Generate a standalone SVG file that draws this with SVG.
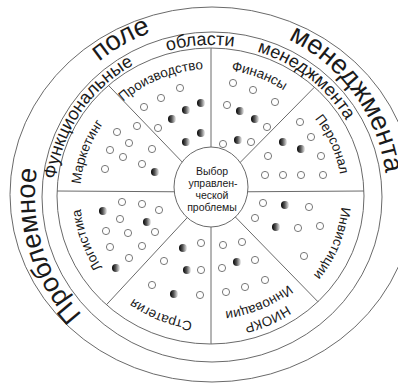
<svg xmlns="http://www.w3.org/2000/svg" xmlns:xlink="http://www.w3.org/1999/xlink" width="398" height="383" viewBox="0 0 398 383">
<style>
.ring{fill:none;stroke:#6a6a6a;stroke-width:1}
.div{stroke:#6a6a6a;stroke-width:1}
.o{fill:#fff;stroke:#6a6a6a;stroke-width:0.9}
.f{fill:url(#g);stroke:none}
.t{font-family:"Liberation Sans",Arial,sans-serif;fill:#1a1a1a}
.lab{font-size:13.5px}
.mid{font-size:18px}
.big{font-size:27px}
.ctr{font-size:10.5px;text-anchor:middle}
</style>
<defs>
<linearGradient id="g" x1="0" y1="0" x2="1" y2="0">
<stop offset="0" stop-color="#000"/>
<stop offset="0.45" stop-color="#555"/>
<stop offset="1" stop-color="#eee"/>
</linearGradient>
<path id="pLab" d="M 211 323 A 131 127 0 1 1 211 69 A 131 127 0 1 1 211 323"/>
<path id="pNiokr" d="M 211 328 A 136 132 0 1 1 211 64 A 136 132 0 1 1 211 328"/>
<path id="pInnov" d="M 211 312 A 120 116 0 1 1 211 80 A 120 116 0 1 1 211 312"/>
<path id="pMid" d="M 211 347 A 156 151 0 1 1 211 45 A 156 151 0 1 1 211 347"/>
<path id="pBig" d="M 211 370 A 176 174 0 1 1 211 22 A 176 174 0 1 1 211 370"/>
</defs>
<rect width="398" height="383" fill="#fff"/>
<g id="rings">
<ellipse class="ring" cx="212" cy="194.5" rx="202" ry="187.5"/>
<ellipse class="ring" cx="212" cy="197" rx="170" ry="165"/>
<ellipse class="ring" cx="210.5" cy="196" rx="153.5" ry="148"/>
</g>
<g id="ring-labels" class="t">
<text class="big"><textPath xlink:href="#pBig" startOffset="20.3%" text-anchor="middle">Проблемное</textPath></text>
<text class="big"><textPath xlink:href="#pBig" startOffset="41.7%" text-anchor="middle">поле</textPath></text>
<text class="big"><textPath xlink:href="#pBig" startOffset="65.1%" text-anchor="middle">менеджмента</textPath></text>
<text class="mid"><textPath xlink:href="#pMid" startOffset="34.2%" text-anchor="middle">Функциональные</textPath></text>
<text class="mid"><textPath xlink:href="#pMid" startOffset="48.9%" text-anchor="middle">области</textPath></text>
<text class="mid"><textPath xlink:href="#pMid" startOffset="60.8%" text-anchor="middle">менеджмента</textPath></text>
</g>
<g id="connectors">
<line class="div" x1="211" y1="192" x2="211" y2="48"/>
<line class="div" x1="211" y1="192" x2="314.4" y2="87.2"/>
<line class="div" x1="211" y1="192" x2="364" y2="191"/>
<line class="div" x1="211" y1="192" x2="318" y2="301.8"/>
<line class="div" x1="211" y1="192" x2="211" y2="344"/>
<line class="div" x1="211" y1="192" x2="106.4" y2="304.8"/>
<line class="div" x1="211" y1="192" x2="57" y2="191"/>
<line class="div" x1="211" y1="192" x2="108.5" y2="85.4"/>
</g>
<g id="center">
<ellipse cx="211" cy="187" rx="37" ry="40" fill="#fff" stroke="#6a6a6a" stroke-width="1"/>
<text class="t ctr" x="212" y="175">Выбор</text>
<text class="t ctr" x="213" y="187">управлен-</text>
<text class="t ctr" x="212" y="199">ческой</text>
<text class="t ctr" x="212" y="211">проблемы</text>
</g>
<g id="sector-proizvodstvo">
<text class="t lab"><textPath xlink:href="#pLab" startOffset="43.6%" text-anchor="middle">Производство</textPath></text>
<circle class="o" cx="180" cy="88" r="3.6"/><circle class="o" cx="161" cy="98" r="3.6"/><circle class="o" cx="144" cy="107" r="3.6"/><circle class="o" cx="158" cy="128" r="3.6"/>
<circle class="f" cx="186" cy="110" r="4"/><circle class="f" cx="172" cy="119" r="4"/><circle class="f" cx="201" cy="103" r="4"/><circle class="f" cx="201" cy="133" r="4"/><circle class="f" cx="186" cy="142" r="4"/>
</g>
<g id="sector-finansy">
<text class="t lab"><textPath xlink:href="#pLab" startOffset="56%" text-anchor="middle">Финансы</textPath></text>
<circle class="o" cx="233" cy="83" r="3.6"/><circle class="o" cx="253" cy="90" r="3.6"/><circle class="o" cx="275" cy="102" r="3.6"/><circle class="o" cx="227" cy="105" r="3.6"/><circle class="o" cx="267" cy="127" r="3.6"/><circle class="o" cx="251" cy="142" r="3.6"/><circle class="o" cx="223" cy="144" r="3.6"/>
<circle class="f" cx="240" cy="111" r="4"/><circle class="f" cx="255" cy="119" r="4"/><circle class="f" cx="238" cy="140" r="4"/>
</g>
<g id="sector-personal">
<text class="t lab"><textPath xlink:href="#pLab" startOffset="68.5%" text-anchor="middle">Персонал</textPath></text>
<circle class="o" cx="300" cy="122" r="3.6"/><circle class="o" cx="311" cy="137" r="3.6"/><circle class="o" cx="321" cy="156" r="3.6"/><circle class="o" cx="268" cy="156" r="3.6"/><circle class="o" cx="265" cy="175" r="3.6"/><circle class="o" cx="283" cy="175" r="3.6"/><circle class="o" cx="301" cy="175" r="3.6"/><circle class="o" cx="323" cy="175" r="3.6"/>
<circle class="f" cx="283" cy="142" r="4"/><circle class="f" cx="301" cy="149" r="4"/>
</g>
<g id="sector-investicii">
<text class="t lab"><textPath xlink:href="#pLab" startOffset="81%" text-anchor="middle">Инвистиции</textPath></text>
<circle class="o" cx="263" cy="203" r="3.6"/><circle class="o" cx="309" cy="207" r="3.6"/><circle class="o" cx="255" cy="218" r="3.6"/><circle class="o" cx="298" cy="228" r="3.6"/><circle class="o" cx="320" cy="226" r="3.6"/><circle class="o" cx="304" cy="256" r="3.6"/>
<circle class="f" cx="285" cy="205" r="4"/><circle class="f" cx="276" cy="227" r="4"/>
</g>
<g id="sector-niokr">
<text class="t lab"><textPath xlink:href="#pNiokr" startOffset="93.25%" text-anchor="middle">НИОКР</textPath></text>
<text class="t lab"><textPath xlink:href="#pInnov" startOffset="93.4%" text-anchor="middle">Инновации</textPath></text>
<circle class="o" cx="223" cy="245" r="3.6"/><circle class="o" cx="242" cy="242" r="3.6"/><circle class="o" cx="222" cy="268" r="3.6"/><circle class="o" cx="255" cy="260" r="3.6"/><circle class="o" cx="265" cy="280" r="3.6"/><circle class="o" cx="245" cy="287" r="3.6"/><circle class="o" cx="226" cy="292" r="3.6"/>
<circle class="f" cx="237" cy="262" r="4"/>
</g>
<g id="sector-strategiya">
<text class="t lab"><textPath xlink:href="#pLab" startOffset="6.25%" text-anchor="middle">Стратегия</textPath></text>
<circle class="o" cx="201" cy="243" r="3.6"/><circle class="o" cx="164" cy="261" r="3.6"/><circle class="o" cx="201" cy="270" r="3.6"/><circle class="o" cx="152" cy="285" r="3.6"/><circle class="o" cx="200" cy="295" r="3.6"/>
<circle class="f" cx="183" cy="248" r="4"/><circle class="f" cx="187" cy="270" r="4"/><circle class="f" cx="174" cy="294" r="4"/>
</g>
<g id="sector-logistika">
<text class="t lab"><textPath xlink:href="#pLab" startOffset="19.5%" text-anchor="middle">Логистика</textPath></text>
<circle class="o" cx="122" cy="202" r="3.6"/><circle class="o" cx="142" cy="204" r="3.6"/><circle class="o" cx="159" cy="210" r="3.6"/><circle class="o" cx="120" cy="219" r="3.6"/><circle class="o" cx="106" cy="231" r="3.6"/><circle class="o" cx="128" cy="233" r="3.6"/><circle class="o" cx="155" cy="232" r="3.6"/><circle class="o" cx="110" cy="247" r="3.6"/><circle class="o" cx="142" cy="246" r="3.6"/><circle class="o" cx="129" cy="258" r="3.6"/>
<circle class="f" cx="103" cy="211" r="4"/><circle class="f" cx="147" cy="222" r="4"/><circle class="f" cx="116" cy="268" r="4"/>
</g>
<g id="sector-marketing">
<text class="t lab"><textPath xlink:href="#pLab" startOffset="30.5%" text-anchor="middle">Маркетинг</textPath></text>
<circle class="o" cx="137" cy="126" r="3.6"/><circle class="o" cx="117" cy="132" r="3.6"/><circle class="o" cx="129" cy="143" r="3.6"/><circle class="o" cx="110" cy="150" r="3.6"/><circle class="o" cx="152" cy="149" r="3.6"/><circle class="o" cx="123" cy="157" r="3.6"/><circle class="o" cx="142" cy="164" r="3.6"/><circle class="o" cx="105" cy="169" r="3.6"/>
<circle class="f" cx="155" cy="172" r="4"/>
</g>
</svg>
